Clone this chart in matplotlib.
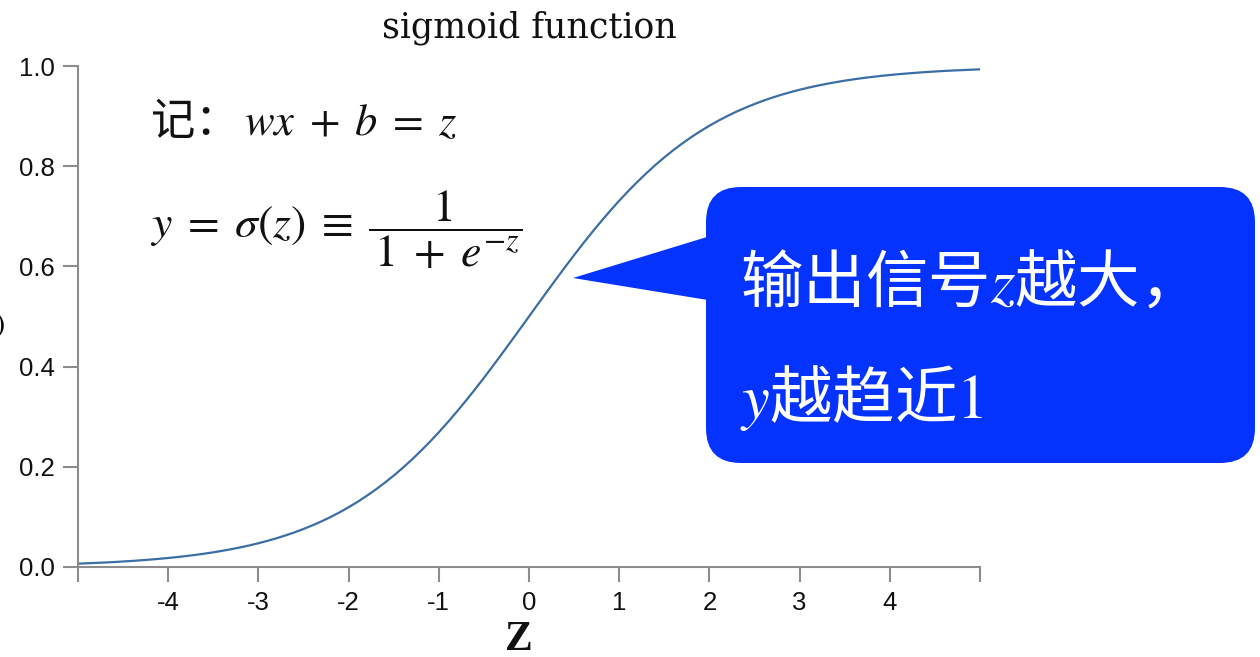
import numpy as np
import matplotlib
matplotlib.use("Agg")
import matplotlib.pyplot as plt
from matplotlib.patches import FancyBboxPatch, Polygon

plt.rcParams['font.family'] = ['Noto Sans CJK SC', 'DejaVu Sans']
plt.rcParams['mathtext.fontset'] = 'stix'

# values, z from -5 to 5 in steps of 0.1
z = np.linspace(-5, 5, 101)
y = [0.0067, 0.0074, 0.0082, 0.0090, 0.0099, 0.0110, 0.0121, 0.0134, 0.0148, 0.0163,
     0.0180, 0.0198, 0.0219, 0.0241, 0.0266, 0.0293, 0.0323, 0.0356, 0.0392, 0.0431,
     0.0474, 0.0522, 0.0573, 0.0630, 0.0691, 0.0759, 0.0832, 0.0911, 0.0998, 0.1091,
     0.1192, 0.1301, 0.1419, 0.1545, 0.1680, 0.1824, 0.1978, 0.2142, 0.2315, 0.2497,
     0.2689, 0.2891, 0.3100, 0.3318, 0.3543, 0.3775, 0.4013, 0.4256, 0.4502, 0.4750,
     0.5000,
     0.5250, 0.5498, 0.5744, 0.5987, 0.6225, 0.6457, 0.6682, 0.6900, 0.7109, 0.7311,
     0.7503, 0.7685, 0.7858, 0.8022, 0.8176, 0.8320, 0.8455, 0.8581, 0.8699, 0.8808,
     0.8909, 0.9002, 0.9089, 0.9168, 0.9241, 0.9309, 0.9370, 0.9427, 0.9478, 0.9526,
     0.9569, 0.9608, 0.9644, 0.9677, 0.9707, 0.9734, 0.9759, 0.9781, 0.9802, 0.9820,
     0.9837, 0.9852, 0.9866, 0.9879, 0.9890, 0.9901, 0.9910, 0.9918, 0.9926, 0.9933]
xticks = [-5, -4, -3, -2, -1, 0, 1, 2, 3, 4, 5]
xticklabels = ['', '-4', '-3', '-2', '-1', '0', '1', '2', '3', '4', '']
yticks = [0.0, 0.2, 0.4, 0.6, 0.8, 1.0]

W, H = 1260, 657
fig = plt.figure(figsize=(W / 100, H / 100), dpi=100)
ax = fig.add_axes([78 / W, 1 - 567 / H, (980 - 78) / W, (567 - 66) / H])

ax.plot(z, y, color='#3a6ea5', lw=1.6)
ax.set_xlim(-5, 5)
ax.set_ylim(0, 1)
ax.set_xticks(xticks)
ax.set_xticklabels(xticklabels)
ax.set_yticks(yticks)
ax.set_yticklabels(['%.1f' % v for v in yticks])
for s in ['top', 'right']:
    ax.spines[s].set_visible(False)
for s in ['left', 'bottom']:
    ax.spines[s].set_color('#8c8c8c')
    ax.spines[s].set_linewidth(1.5)
ax.tick_params(length=11, width=1.5, color='#8c8c8c', pad=6, labelsize=18.5)
for lab in ax.get_xticklabels() + ax.get_yticklabels():
    lab.set_family('Liberation Sans')
    lab.set_color('#111111')

# overlay in pixel coordinates for texts and callout
ov = fig.add_axes([0, 0, 1, 1], zorder=5)
ov.set_xlim(0, W)
ov.set_ylim(H, 0)
ov.axis('off')
ov.patch.set_alpha(0)

ov.text(529, 28, 'sigmoid function', ha='center', va='center',
        family='DejaVu Serif', fontsize=25, color='#111111')
ov.text(519, 640, 'Z', ha='center', va='center', family='Liberation Serif',
        fontweight='bold', fontsize=30, color='#111111')
ov.text(5, 325, r'$\sigma(z)$', ha='right', va='center', fontsize=22)

ov.text(150, 122, r'记：$\,wx \;+\; b \;=\; z$', ha='left', va='center',
        fontsize=32, color='#111111')
ov.text(150, 230, r'$y \;=\; \sigma(z) \;\equiv\; \dfrac{1}{\,1 \;+\; e^{-z}}$', ha='left',
        va='center', fontsize=33, color='#111111')

blue = '#0433ff'
ov.add_patch(FancyBboxPatch((706 + 35, 187 + 35), 549 - 70, 276 - 70,
                            boxstyle='round,pad=35', fc=blue, ec='none'))
ov.add_patch(Polygon([(573, 278), (720, 233), (720, 302)], closed=True, fc=blue, ec='none'))
ov.text(740, 284, '输出信号$z$越大，', ha='left', va='center', fontsize=45, color='white')
ov.text(740, 398, '$y$越趋近$1$', ha='left', va='center', fontsize=45, color='white')

fig.savefig('out.png', dpi=100)
